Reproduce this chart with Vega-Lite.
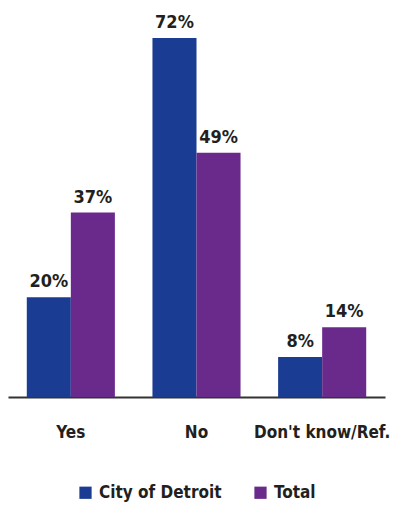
{
  "$schema": "https://vega.github.io/schema/vega-lite/v6.json",
  "autosize": "none",
  "width": 377,
  "height": 359,
  "padding": {"left": 8, "top": 38, "right": 10, "bottom": 109},
  "background": "white",
  "config": {
    "view": {"stroke": null},
    "font": "DejaVu Sans Condensed"
  },
  "data": {
    "values": [
      {"answer": "Yes", "group": "City of Detroit", "share": 0.20},
      {"answer": "Yes", "group": "Total", "share": 0.37},
      {"answer": "No", "group": "City of Detroit", "share": 0.72},
      {"answer": "No", "group": "Total", "share": 0.49},
      {"answer": "Don't know/Ref.", "group": "City of Detroit", "share": 0.08},
      {"answer": "Don't know/Ref.", "group": "Total", "share": 0.14}
    ]
  },
  "encoding": {
    "x": {
      "field": "answer",
      "type": "nominal",
      "sort": ["Yes", "No", "Don't know/Ref."],
      "scale": {"paddingInner": 0.299, "paddingOuter": 0.1495},
      "axis": {
        "title": null,
        "labelAngle": 0,
        "ticks": false,
        "domainColor": "#333333",
        "domainWidth": 2,
        "labelBaseline": "alphabetic",
        "labelPadding": 40,
        "labelFont": "DejaVu Sans Condensed",
        "labelFontWeight": "bold",
        "labelFontSize": 17,
        "labelColor": "#231f20"
      }
    },
    "xOffset": {"field": "group", "type": "nominal", "sort": ["City of Detroit", "Total"]},
    "y": {
      "field": "share",
      "type": "quantitative",
      "scale": {"domain": [0, 0.72], "nice": false},
      "axis": null
    }
  },
  "layer": [
    {
      "mark": {"type": "bar"},
      "encoding": {
        "color": {
          "field": "group",
          "type": "nominal",
          "sort": ["City of Detroit", "Total"],
          "scale": {"domain": ["City of Detroit", "Total"], "range": ["#1b3c93", "#6a2a8c"]},
          "legend": {
            "title": null,
            "orient": "none",
            "direction": "horizontal",
            "legendX": 69,
            "legendY": 446,
            "symbolType": "square",
            "symbolSize": 150,
            "symbolStrokeWidth": 0,
            "symbolOpacity": 1,
            "labelFont": "DejaVu Sans Condensed",
            "labelFontWeight": "bold",
            "labelFontSize": 17,
            "labelColor": "#231f20",
            "columnPadding": 30,
            "labelOffset": 5,
            "symbolOffset": 0
          }
        }
      }
    },
    {
      "mark": {
        "type": "text",
        "dy": -10,
        "baseline": "alphabetic",
        "font": "DejaVu Sans Condensed",
        "fontWeight": "bold",
        "fontSize": 18,
        "color": "#231f20"
      },
      "encoding": {
        "text": {"field": "share", "type": "quantitative", "format": ".0%"},
        "detail": {"field": "group"}
      }
    }
  ]
}
